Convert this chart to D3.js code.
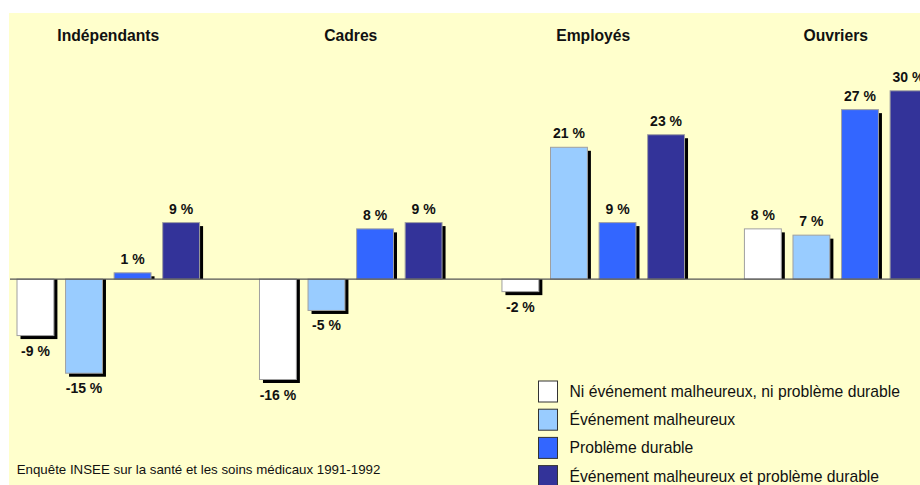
<!DOCTYPE html>
<html><head><meta charset="utf-8">
<script src="https://cdn.jsdelivr.net/npm/d3@7"></script>
<style>body{margin:0;background:#fff;}svg{display:block;font-family:Arial,"Liberation Sans",sans-serif;}</style>
</head><body>
<svg id="c" width="920" height="485"></svg>
<script>
const categories = ["Indépendants", "Cadres", "Employés", "Ouvriers"];
const seriesNames = [
  "Ni événement malheureux, ni problème durable",
  "Événement malheureux",
  "Problème durable",
  "Événement malheureux et problème durable"
];
const noneValues = [-9, -16, -2, 8];
const eventValues = [-15, -5, 21, 7];
const durableValues = [1, 8, 9, 27];
const bothValues = [9, 9, 23, 30];
const seriesColors = ["#FFFFFF", "#99CCFF", "#3366FF", "#333399"];
const footnote = "Enquête INSEE sur la santé et les soins médicaux 1991-1992";

const seriesValues = [noneValues, eventValues, durableValues, bothValues];
const svg = d3.select("#c");
const W = 920, H = 485;

svg.append("rect").attr("x", 9).attr("y", 13).attr("width", W - 9).attr("height", H - 13).attr("fill", "#FFFFCC");

const x0 = d3.scaleBand().domain(categories).range([17, 927]).paddingInner(0.247).paddingOuter(0);
const x1 = d3.scaleBand().domain(d3.range(seriesNames.length)).range([0, x0.bandwidth()]).paddingInner(0.24).paddingOuter(0);
const y = d3.scaleLinear().domain([-16, 30]).range([379.5, 90.8]);

const data = [];
categories.forEach((c, ci) => seriesValues.forEach((vals, si) => data.push({c, si, v: vals[ci]})));

const g = svg.append("g");
// shadows
g.selectAll("rect.sh").data(data).join("rect").attr("class", "sh")
  .attr("x", d => x0(d.c) + x1(d.si) + 3.5)
  .attr("y", d => d.v >= 0 ? y(d.v) + 3.5 : y(0))
  .attr("width", x1.bandwidth())
  .attr("height", d => d.v >= 0 ? Math.max(0, y(0) - y(d.v) - 3.5) : y(d.v) - y(0) + 3.5)
  .attr("fill", "#000");
// bars
g.selectAll("rect.bar").data(data).join("rect").attr("class", "bar")
  .attr("x", d => x0(d.c) + x1(d.si))
  .attr("y", d => Math.min(y(d.v), y(0)))
  .attr("width", x1.bandwidth())
  .attr("height", d => Math.abs(y(d.v) - y(0)))
  .attr("fill", d => seriesColors[d.si])
  .attr("stroke", "#A0A0A0").attr("stroke-width", 1);
// zero line
svg.append("line").attr("x1", 10).attr("x2", W).attr("y1", y(0)).attr("y2", y(0))
  .attr("stroke", "#555").attr("stroke-width", 1.3);
// value labels
g.selectAll("text.val").data(data).join("text").attr("class", "val")
  .attr("x", d => x0(d.c) + x1(d.si) + x1.bandwidth() / 2)
  .attr("y", d => d.v >= 0 ? y(d.v) - 9 : y(d.v) + 20)
  .attr("text-anchor", "middle").attr("font-weight", "bold").attr("font-size", 14)
  .attr("fill", "#111").text(d => d.v + " %");
// group titles
svg.selectAll("text.cat").data(categories).join("text").attr("class", "cat")
  .attr("x", d => x0(d) + x0.bandwidth() / 2).attr("y", 41)
  .attr("text-anchor", "middle").attr("font-weight", "bold").attr("font-size", 15.7)
  .attr("fill", "#111").text(d => d);
// legend
const lg = svg.append("g").attr("transform", "translate(538.5,381)");
const items = lg.selectAll("g").data(seriesNames).join("g").attr("transform", (d, i) => `translate(0,${i * 28.2})`);
items.append("rect").attr("width", 19).attr("height", 21).attr("fill", (d, i) => seriesColors[i]).attr("stroke", "#333").attr("stroke-width", 1);
items.append("text").attr("x", 31).attr("y", 16).attr("font-size", 15.7).attr("fill", "#111").text(d => d);
// footnote
svg.append("text").attr("x", 16.7).attr("y", 474).attr("font-size", 13.3).attr("fill", "#111").text(footnote);
</script>
</body></html>
